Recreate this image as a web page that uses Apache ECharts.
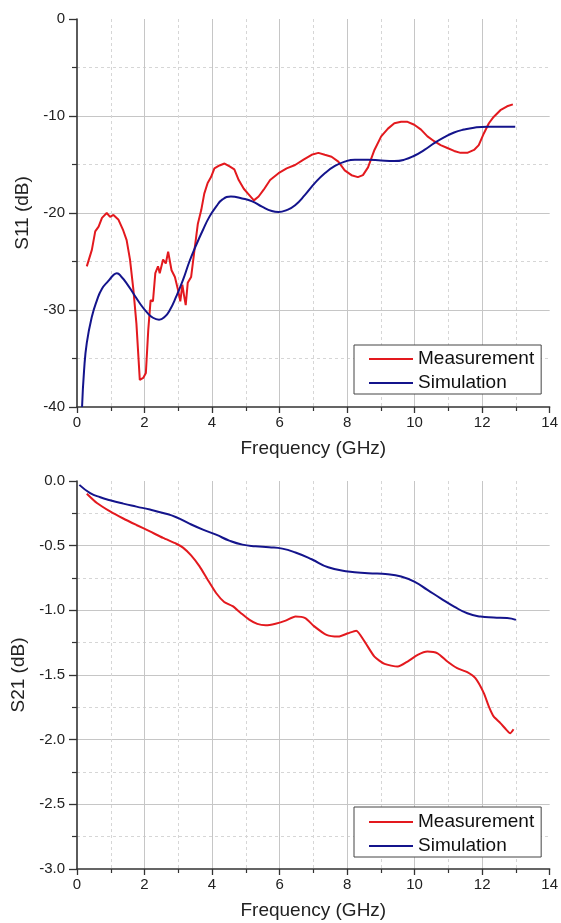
<!DOCTYPE html>
<html>
<head>
<meta charset="utf-8">
<script src="https://cdn.jsdelivr.net/npm/echarts@6/dist/echarts.min.js"></script>
<style>
html,body{margin:0;padding:0;background:#fff;}
#c{width:561px;height:923px;}
</style>
</head>
<body>
<div id="c"></div>
<script>
// ---- Data (Frequency in GHz, values in dB) ----
var seriesNames = ['Measurement', 'Simulation'];
var xTicks = [0, 2, 4, 6, 8, 10, 12, 14];

var s11MeasFreq = [0.29,0.44,0.54,0.64,0.74,0.88,0.98,1.08,1.23,1.37,1.47,1.57,1.67,1.76,1.86,1.96,2.04,2.11,2.18,2.25,2.32,2.40,2.45,2.55,2.63,2.70,2.80,2.90,2.99,3.06,3.12,3.17,3.22,3.28,3.38,3.48,3.58,3.68,3.77,3.87,3.97,4.07,4.22,4.37,4.52,4.66,4.79,4.94,5.09,5.24,5.38,5.53,5.72,5.97,6.21,6.46,6.71,6.95,7.15,7.34,7.54,7.74,7.93,8.13,8.32,8.47,8.62,8.81,9.01,9.21,9.40,9.60,9.79,9.99,10.19,10.38,10.58,10.77,10.97,11.17,11.36,11.56,11.76,11.90,12.05,12.20,12.34,12.54,12.74,12.91];
var s11MeasDb = [-25.5,-23.8,-21.9,-21.4,-20.5,-20.0,-20.4,-20.2,-20.7,-21.8,-22.8,-24.8,-27.9,-31.4,-37.2,-37.0,-36.5,-32.1,-29.0,-29.1,-26.2,-25.5,-26.2,-24.8,-25.2,-24.0,-25.9,-26.6,-27.9,-29.1,-27.4,-28.5,-29.5,-27.2,-26.6,-23.8,-21.1,-19.7,-18.0,-16.9,-16.3,-15.4,-15.1,-14.9,-15.2,-15.5,-16.6,-17.5,-18.1,-18.7,-18.3,-17.6,-16.6,-15.9,-15.4,-15.05,-14.5,-14.0,-13.8,-14.0,-14.2,-14.7,-15.6,-16.1,-16.3,-16.1,-15.3,-13.5,-12.1,-11.3,-10.75,-10.6,-10.6,-10.9,-11.4,-12.1,-12.6,-13.0,-13.3,-13.6,-13.8,-13.8,-13.5,-13.0,-11.8,-10.75,-10.1,-9.4,-9.0,-8.8];

var s11SimFreq = [0.15,0.21,0.29,0.44,0.59,0.74,0.93,1.08,1.18,1.32,1.47,1.67,1.86,2.06,2.25,2.43,2.60,2.75,2.94,3.14,3.33,3.53,3.73,3.92,4.12,4.31,4.56,4.89,5.19,5.48,5.77,5.97,6.21,6.46,6.76,7.05,7.34,7.64,7.93,8.23,8.62,9.01,9.40,9.70,9.99,10.29,10.58,10.87,11.17,11.46,11.76,12.15,12.54,12.98];
var s11SimDb = [-40,-36.2,-33.4,-30.7,-29.0,-27.8,-27.0,-26.4,-26.2,-26.6,-27.25,-28.3,-29.3,-30.2,-30.8,-31.0,-30.7,-30.0,-28.6,-26.9,-25.0,-23.3,-21.75,-20.4,-19.35,-18.6,-18.3,-18.5,-18.8,-19.35,-19.8,-19.9,-19.7,-19.2,-18.1,-16.9,-15.9,-15.15,-14.7,-14.5,-14.5,-14.6,-14.65,-14.5,-14.1,-13.5,-12.8,-12.2,-11.7,-11.4,-11.2,-11.1,-11.1,-11.1];

var s21MeasFreq = [0.29,0.59,0.98,1.37,1.76,2.16,2.55,2.94,3.14,3.38,3.63,3.87,4.12,4.36,4.61,4.85,5.10,5.34,5.59,5.88,6.18,6.47,6.76,7.01,7.39,7.74,8.03,8.27,8.52,8.81,9.11,9.50,9.79,10.09,10.38,10.68,10.97,11.26,11.56,11.80,12.05,12.20,12.34,12.54,12.72,12.83,12.93];
var s21MeasDb = [-0.098,-0.17,-0.235,-0.29,-0.34,-0.39,-0.44,-0.485,-0.515,-0.575,-0.66,-0.763,-0.866,-0.935,-0.968,-1.02,-1.072,-1.105,-1.115,-1.103,-1.08,-1.048,-1.06,-1.12,-1.19,-1.203,-1.177,-1.157,-1.242,-1.358,-1.414,-1.435,-1.396,-1.345,-1.319,-1.332,-1.396,-1.447,-1.478,-1.525,-1.64,-1.744,-1.82,-1.872,-1.924,-1.95,-1.919];

var s21SimFreq = [0.07,0.39,0.69,0.98,1.37,1.76,2.16,2.55,2.94,3.33,3.73,4.12,4.51,4.90,5.29,5.69,6.08,6.47,6.95,7.44,8.03,8.62,9.21,9.60,9.99,10.38,10.77,11.17,11.56,11.95,12.34,12.74,13.00];
var s21SimDb = [-0.03,-0.093,-0.126,-0.149,-0.175,-0.198,-0.221,-0.247,-0.28,-0.33,-0.376,-0.415,-0.461,-0.492,-0.505,-0.512,-0.523,-0.553,-0.605,-0.667,-0.70,-0.713,-0.721,-0.739,-0.778,-0.842,-0.907,-0.971,-1.023,-1.048,-1.056,-1.06,-1.074];

function zip(a, b) { return a.map(function (v, i) { return [v, b[i]]; }); }

var FONT = '"Liberation Sans", Arial, sans-serif';
var RED = '#e3191e';
var NAVY = '#14148c';

function xAxisCfg(idx) {
  return {
    type: 'value', gridIndex: idx, min: xTicks[0], max: xTicks[xTicks.length - 1], interval: 2,
    name: 'Frequency (GHz)', nameLocation: 'middle', nameGap: 32,
    nameTextStyle: { fontFamily: FONT, fontSize: 19, color: '#222' },
    axisLine: { onZero: false, lineStyle: { color: '#333', width: 1.6 } },
    axisTick: { length: 6, lineStyle: { color: '#333', width: 1.3 } },
    minorTick: { show: true, splitNumber: 2, length: 4, lineStyle: { color: '#333', width: 1.2 } },
    axisLabel: { fontFamily: FONT, fontSize: 15, color: '#222', margin: 8 },
    splitLine: { show: true, showMinLine: false, showMaxLine: false, lineStyle: { color: '#c6c6c6', width: 1 } },
    minorSplitLine: { show: true, lineStyle: { color: '#d6d6d6', width: 1, type: [3, 3] } }
  };
}
function yAxisCfg(idx, name, min, max, interval, fmt) {
  return {
    type: 'value', gridIndex: idx, min: min, max: max, interval: interval,
    name: name, nameLocation: 'middle', nameGap: 40,
    nameTextStyle: { fontFamily: FONT, fontSize: 19, color: '#222' },
    axisLine: { show: true, onZero: false, lineStyle: { color: '#333', width: 1.6 } },
    axisTick: { length: 8, lineStyle: { color: '#333', width: 1.3 } },
    minorTick: { show: true, splitNumber: 2, length: 5, lineStyle: { color: '#333', width: 1.2 } },
    axisLabel: { fontFamily: FONT, fontSize: 15, color: '#222', margin: 12, formatter: fmt },
    splitLine: { show: true, showMinLine: false, showMaxLine: false, lineStyle: { color: '#c6c6c6', width: 1 } },
    minorSplitLine: { show: true, lineStyle: { color: '#d6d6d6', width: 1, type: [3, 3] } }
  };
}
function lineSeries(name, xi, data, color, smooth) {
  return {
    name: name, type: 'line', xAxisIndex: xi, yAxisIndex: xi, data: data,
    showSymbol: false, symbol: 'none', smooth: smooth, clip: true,
    lineStyle: { color: color, width: 2 }, itemStyle: { color: color }
  };
}
function legendCfg(top, padTop) {
  return {
    left: 354, top: top, orient: 'vertical', data: seriesNames,
    icon: 'rect', itemWidth: 44, itemHeight: 2, itemGap: 4,
    padding: [padTop, 7, 1, 15],
    backgroundColor: '#fff', borderColor: '#444', borderWidth: 1, borderRadius: 0,
    selectedMode: false,
    textStyle: { fontFamily: FONT, fontSize: 19, color: '#111', lineHeight: 20 }
  };
}

var chart = echarts.init(document.getElementById('c'), null, { renderer: 'canvas' });
chart.setOption({
  animation: false,
  backgroundColor: '#fff',
  grid: [
    { left: 77, right: 8, top: 19, bottom: 516 },
    { left: 77, right: 8, top: 481, bottom: 54 }
  ],
  xAxis: [xAxisCfg(0), xAxisCfg(1)],
  yAxis: [
    yAxisCfg(0, 'S11 (dB)', -40, 0, 10, function (v) { return String(v); }),
    yAxisCfg(1, 'S21 (dB)', -3, 0, 0.5, function (v) { return v.toFixed(1); })
  ],
  legend: [legendCfg(345, 4), legendCfg(807, 5)],
  series: [
    lineSeries('Measurement', 0, zip(s11MeasFreq, s11MeasDb), RED, false),
    lineSeries('Simulation', 0, zip(s11SimFreq, s11SimDb), NAVY, 0.5),
    lineSeries('Measurement', 1, zip(s21MeasFreq, s21MeasDb), RED, 0.2),
    lineSeries('Simulation', 1, zip(s21SimFreq, s21SimDb), NAVY, 0.5)
  ]
});
</script>
</body>
</html>
